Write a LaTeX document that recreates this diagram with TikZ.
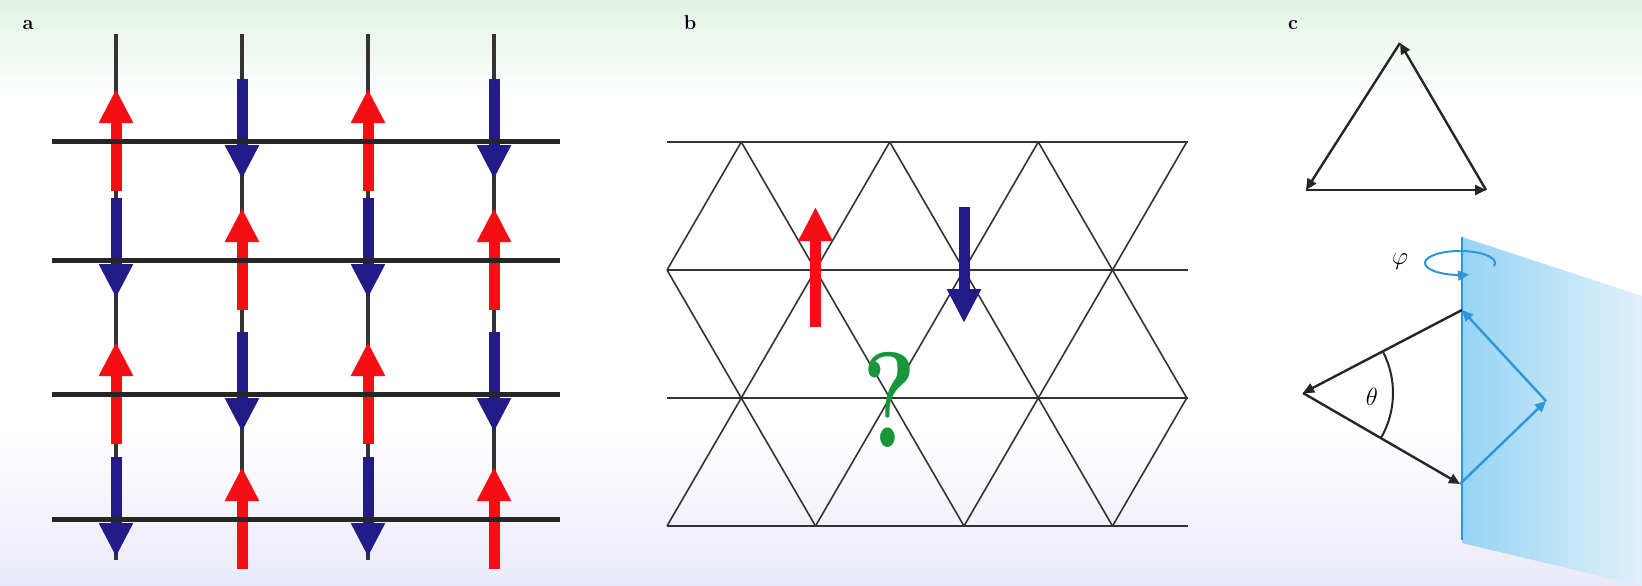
\documentclass[tikz,border=0pt]{standalone}
\usepackage{xcolor}
\usepackage{tikz}
\usetikzlibrary{arrows.meta, positioning}

\definecolor{spinred}{RGB}{245,15,20}
\definecolor{spinblue}{RGB}{35,28,135}
\definecolor{qgreen}{RGB}{25,150,60}
\definecolor{axisblue}{RGB}{45,150,215}
\definecolor{planeblue}{RGB}{150,212,244}
\definecolor{planepale}{RGB}{224,241,250}
\definecolor{bgtop}{RGB}{226,242,229}
\definecolor{bgbot}{RGB}{234,233,248}

\begin{document}
\begin{tikzpicture}[
    x=1pt, y=-1pt,
    rail/.style={line width=5pt, black!85},
    rung/.style={line width=4pt, black!80},
    upspin/.style={spinred, line width=11pt, -{Triangle[length=34pt, width=32pt]}},
    downspin/.style={spinblue, line width=11pt, -{Triangle[length=34pt, width=32pt]}},
    bond/.style={line width=1.6pt, black!80},
    vec/.style={line width=2.4pt, black!85, -{Triangle[length=11pt, width=10pt]}},
    bvec/.style={vec, axisblue},
    panel/.style={font=\bfseries\fontsize{20}{20}\selectfont, inner sep=0pt},
    sym/.style={font=\fontsize{32}{32}\selectfont, inner sep=0pt}
]
    \useasboundingbox (0,0) rectangle (1642,586);
    \fill[white] (0,0) rectangle (1642,586);
    \shade[top color=bgtop, bottom color=white] (0,0) rectangle (1642,100);
    \shade[top color=white, bottom color=bgbot] (0,430) rectangle (1642,586);

    % a: square lattice
    \node[panel] (la) at (28,25) {a};
    \foreach \x in {116,242,368,494}
        \draw[rung] (\x,34) -- (\x,560);
    \foreach \x [count=\c] in {116,242,368,494}
        \foreach \y [count=\r] in {141,260,394,519} {
            \pgfmathparse{int(mod(\c+\r,2))}
            \ifnum\pgfmathresult=0
                \draw[upspin] (\x,\y+50) -- (\x,\y-52);
            \else
                \draw[downspin] (\x,\y-62) -- (\x,\y+38);
            \fi
        }
    \foreach \y in {141,260,394,519}
        \draw[rail] (52,\y) -- (560,\y);

    % b: triangular lattice
    \node[panel] (lb) at (690,23) {b};
    \foreach \r in {0,...,3} {
        \draw[bond] (667,142+128*\r) -- (1188,142+128*\r);
        \foreach \k in {0,...,3} {
            \pgfmathsetmacro\vx{667+148.5*\k+74.25*(1-mod(\r,2))}
            \coordinate (v\r\k) at (\vx,142+128*\r);
        }
    }
    \foreach \e/\o in {0/1, 2/1, 2/3} {
        \foreach \k in {0,...,3}
            \draw[bond] (v\e\k) -- (v\o\k);
        \foreach \k [evaluate=\k as \kk using int(\k+1)] in {0,1,2}
            \draw[bond] (v\e\k) -- (v\o\kk);
    }
    \draw[upspin] ([yshift=-57pt]v11) -- ([yshift=63pt]v11);
    \draw[downspin] ([yshift=63pt]v12) -- ([yshift=-53pt]v12);
    \node[qgreen, inner sep=0pt, xscale=0.75, font=\bfseries\fontsize{136}{136}\selectfont] (q) at ([yshift=-2pt]v21) {?};

    % c: triangles
    \node[panel] (lc) at (1293,25) {c};
    \coordinate (apex) at (1400,43);
    \coordinate (tl) at (1306,190);
    \coordinate (tr) at (1486,190);
    \draw[vec] (tl) -- (tr);
    \draw[vec] (tr) -- (apex);
    \draw[vec] (apex) -- (tl);

    \shade[left color=planeblue, right color=planepale] (1462,237) -- (1642,296) -- (1642,586) -- (1462,543) -- cycle;
    \coordinate (axtop) at (1462,237);
    \coordinate (axbot) at (1462,540);
    \coordinate (phic) at (1460,263);
    \coordinate (top) at (1462,310);
    \coordinate (lft) at (1303,393);
    \coordinate (bot) at (1460,484);
    \coordinate (rgt) at (1546,401);
    \draw[line width=2.2pt, axisblue] (axtop) -- (axbot);
    \draw[bvec, line width=2pt] ([shift={(-15:35pt and 12pt)}]phic) arc[start angle=-15, end angle=285, x radius=35pt, y radius=12pt];
    \node[sym] (phi) at (1400,262) {$\varphi$};
    \draw[vec] (top) -- (lft);
    \draw[vec] (lft) -- (bot);
    \draw[bvec] (bot) -- (rgt);
    \draw[bvec] (rgt) -- (top);
    \draw[line width=2pt, black!85] ([shift={(-30:90pt)}]lft) arc[start angle=-30, end angle=27.5, radius=90pt];
    \node[sym] (theta) at (1372,397) {$\theta$};
\end{tikzpicture}
\end{document}
